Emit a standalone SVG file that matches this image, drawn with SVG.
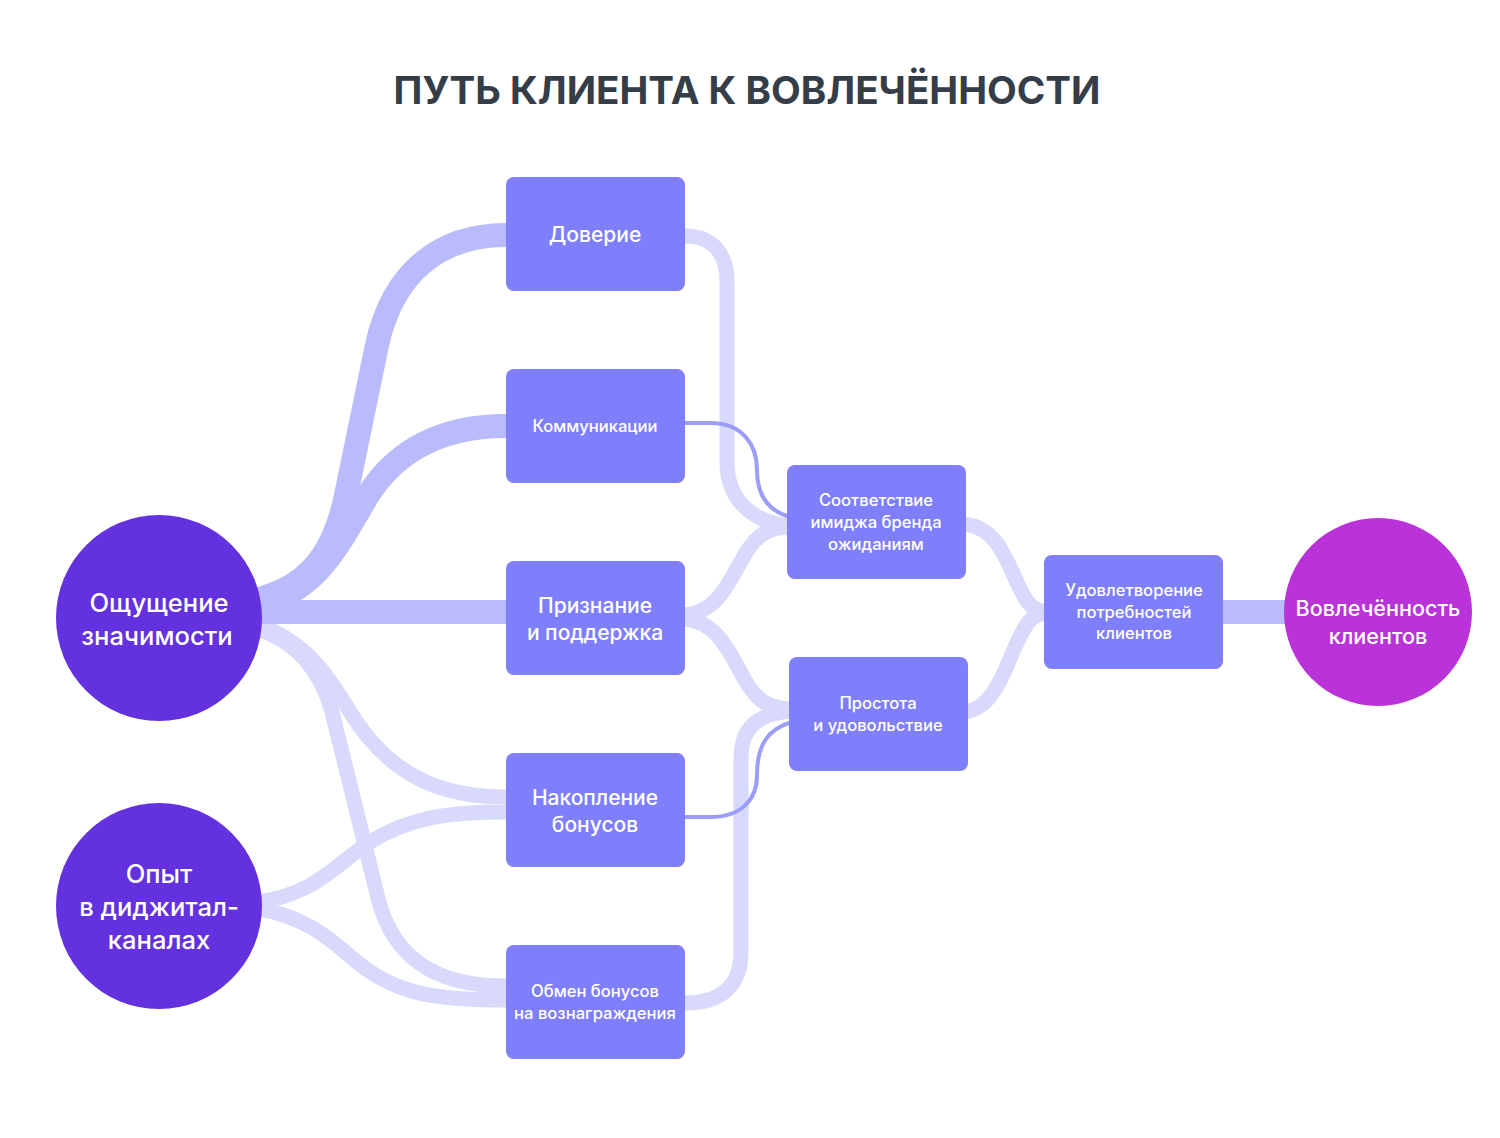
<svg xmlns="http://www.w3.org/2000/svg" width="1500" height="1138" viewBox="0 0 1500 1138">
<style>
.bg{fill:#ffffff}
.title{font-family:Inter,"Noto Sans",sans-serif;font-weight:700;font-size:38.6px;fill:#343d48;text-anchor:middle}
.box{fill:#7f7ffc}
.c1{fill:#6331dd}
.c2{fill:#b933d9}
.t{font-family:Inter,"Noto Sans",sans-serif;font-weight:500;fill:#ffffff;text-anchor:middle;dominant-baseline:central}
.s16{font-size:16.6px}
.s20{font-size:21px}
.s22{font-size:21.6px}
.s24{font-size:25.6px}
.thick{fill:none;stroke:#babbfd;stroke-width:24}
.light{fill:none;stroke:#d9d9fc;stroke-width:15}
.thin{fill:none;stroke:#9c9df9;stroke-width:4}
</style>
<rect class="bg" width="1500" height="1138"/>
<text class="title" x="747" y="104">ПУТЬ КЛИЕНТА К ВОВЛЕЧЁННОСТИ</text>
<g id="connectors">
<path class="light" d="M 255,624 C 305,640 328,675 352,715 C 390,775 440,797 506,797"/>
<path class="light" d="M 255,628 C 300,642 322,675 332,712 L 378,898 C 394,962 440,986 506,986"/>
<path class="light" d="M 255,902 C 315,896 338,862 370,842 C 410,817 450,812 506,812"/>
<path class="light" d="M 255,908 C 315,918 338,948 362,966 C 400,995 440,1000 506,1000"/>
<path class="light" d="M 685,236 C 713,236 727,254 727,282 L 727,462 C 727,500 752,522 790,526"/>
<path class="light" d="M 685,615 C 715,612 726,588 740,563 C 753,538 765,527 790,527"/>
<path class="light" d="M 685,619 C 715,622 726,646 740,671 C 753,697 765,709 792,709"/>
<path class="light" d="M 685,1003 C 722,1003 741,985 741,952 L 741,758 C 741,728 758,713 792,711"/>
<path class="light" d="M 963,524 C 993,526 1004,553 1015,578 C 1025,600 1030,611 1047,612"/>
<path class="light" d="M 965,712 C 993,708 1004,672 1015,647 C 1025,625 1030,614 1047,613"/>
<path class="thick" d="M 255,600 C 305,588 332,558 345,500 L 377,345 C 393,272 440,235 506,235"/>
<path class="thick" d="M 255,606 C 318,592 338,545 368,495 C 400,445 450,426 506,426"/>
<path class="thick" d="M 255,612 L 506,612"/>
<path class="thick" d="M 1220,612 L 1290,612"/>
<path class="thin" d="M 685,423 L 710,423 C 743,423 757,445 757,470 C 757,496 768,511 790,517"/>
<path class="thin" d="M 685,817 L 710,817 C 741,817 757,800 757,775 C 757,746 767,729 792,722"/>
</g>
<g id="n-oshchushchenie">
<circle class="c1" cx="159" cy="618" r="103"/>
<text class="t s24" x="159" y="602">Ощущение</text>
<text class="t s24" x="157" y="635">значимости</text>
</g>
<g id="n-opyt">
<circle class="c1" cx="159" cy="906" r="103"/>
<text class="t s24" x="159" y="873">Опыт</text>
<text class="t s24" x="159" y="906">в диджитал-</text>
<text class="t s24" x="159" y="939">каналах</text>
</g>
<g id="n-doverie">
<rect class="box" x="506" y="177" width="179" height="114" rx="8"/>
<text class="t s20" x="595" y="234">Доверие</text>
</g>
<g id="n-kommunikacii">
<rect class="box" x="506" y="369" width="179" height="114" rx="8"/>
<text class="t s16" x="595" y="426">Коммуникации</text>
</g>
<g id="n-priznanie">
<rect class="box" x="506" y="561" width="179" height="114" rx="8"/>
<text class="t s20" x="595" y="605">Признание</text>
<text class="t s20" x="595" y="632">и поддержка</text>
</g>
<g id="n-nakoplenie">
<rect class="box" x="506" y="753" width="179" height="114" rx="8"/>
<text class="t s20" x="595" y="797">Накопление</text>
<text class="t s20" x="595" y="824">бонусов</text>
</g>
<g id="n-obmen">
<rect class="box" x="506" y="945" width="179" height="114" rx="8"/>
<text class="t s16" x="595" y="991">Обмен бонусов</text>
<text class="t s16" x="595" y="1013">на вознаграждения</text>
</g>
<g id="n-sootvetstvie">
<rect class="box" x="787" y="465" width="179" height="114" rx="8"/>
<text class="t s16" x="876" y="500">Соответствие</text>
<text class="t s16" x="876" y="522">имиджа бренда</text>
<text class="t s16" x="876" y="544">ожиданиям</text>
</g>
<g id="n-prostota">
<rect class="box" x="789" y="657" width="179" height="114" rx="8"/>
<text class="t s16" x="878" y="703">Простота</text>
<text class="t s16" x="878" y="725">и удовольствие</text>
</g>
<g id="n-udovletvorenie">
<rect class="box" x="1044" y="555" width="179" height="114" rx="8"/>
<text class="t s16" x="1134" y="590">Удовлетворение</text>
<text class="t s16" x="1134" y="612">потребностей</text>
<text class="t s16" x="1134" y="633">клиентов</text>
</g>
<g id="n-vovlechennost">
<circle class="c2" cx="1378" cy="612" r="94"/>
<text class="t s22" x="1378" y="608">Вовлечённость</text>
<text class="t s22" x="1378" y="636">клиентов</text>
</g>
</svg>
